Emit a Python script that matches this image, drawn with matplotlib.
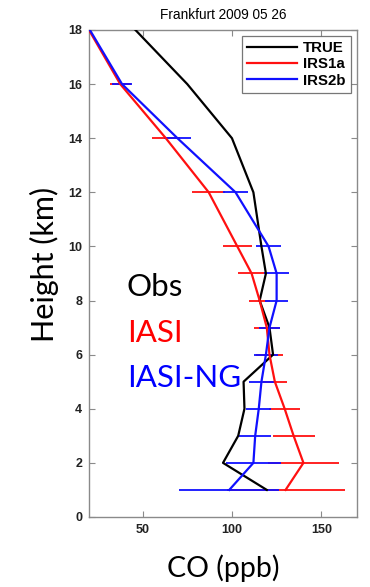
import matplotlib
matplotlib.use("Agg")
import matplotlib.pyplot as plt

heights = [18, 16, 14, 12, 10, 9, 8, 7, 6, 5, 4, 3, 2, 1]
true_co = [46, 75, 100, 112, 116.5, 119, 115.5, 121, 123, 106.5, 107, 103.5, 95, 119.5]
irs1a_co = [20, 37.5, 63, 87, 103, 111, 115.5, 119.5, 121, 124, 129.5, 134.5, 140, 130]
irs1a_err = [3, 6, 8, 9.3, 8, 7.7, 6, 7.3, 7.7, 6.6, 8.5, 11.8, 19.8, 33]
irs2b_co = [20.5, 38.5, 69.5, 102, 120.5, 125, 125, 121, 119, 116.5, 115, 113, 112, 98.5]
irs2b_err = [0, 5.6, 7.5, 7, 7, 7, 6.5, 6, 6.6, 7, 7, 9, 15.5, 28]

x_ticks = [50, 100, 150]
y_ticks = [0, 2, 4, 6, 8, 10, 12, 14, 16, 18]
title = "Frankfurt 2009 05 26"
legend_labels = ["TRUE", "IRS1a", "IRS2b"]

fig = plt.figure(figsize=(3.70, 5.87), dpi=100)
ax = fig.add_axes([0.2405, 0.1193, 0.7245, 0.8296])

ax.plot(true_co, heights, color="black", lw=1.6, label=legend_labels[0], zorder=3)
ax.plot(irs1a_co, heights, color="#ff1010", lw=1.6, label=legend_labels[1], zorder=3)
ax.errorbar(irs1a_co, heights, xerr=irs1a_err, fmt="none", ecolor="#ff1010",
            elinewidth=1.3, capsize=0, zorder=2)
ax.plot(irs2b_co, heights, color="#1010ff", lw=1.6, label=legend_labels[2], zorder=3)
ax.errorbar(irs2b_co, heights, xerr=irs2b_err, fmt="none", ecolor="#1010ff",
            elinewidth=1.3, capsize=0, zorder=2)

ax.set_xlim(20, 170)
ax.set_ylim(0, 18)
ax.set_xticks(x_ticks)
ax.set_yticks(y_ticks)
for s in ax.spines.values():
    s.set_color("#8a8a8a")
    s.set_linewidth(1.0)
ax.tick_params(direction="in", length=4, width=0.8, color="#8a8a8a",
               top=True, right=True, labelsize=9, pad=5)
for lab in ax.get_xticklabels() + ax.get_yticklabels():
    lab.set_fontfamily("Liberation Sans")
    lab.set_fontweight("bold")
    lab.set_color("#222222")

ax.set_title(title, fontsize=9.8, family="Liberation Sans", pad=8)

leg = ax.legend(loc="upper right", prop={"family": "Liberation Sans", "weight": "bold", "size": 10.8},
                handlelength=3.3, frameon=True, fancybox=False, borderaxespad=0.4,
                labelspacing=0.15, handletextpad=0.45, borderpad=0.35)
leg.get_frame().set_edgecolor("#555555")
leg.get_frame().set_linewidth(0.9)

fig.text(44 / 370, 1 - 264 / 587, "Height (km)", rotation=90, ha="center", va="center",
         fontsize=22, family="Lato")
fig.text(223 / 370, 1 - 568 / 587, "CO (ppb)", ha="center", va="center",
         fontsize=20.5, family="Lato")
fig.text(127 / 370, 1 - 296 / 587, "Obs", ha="left", va="baseline",
         fontsize=22.5, family="Lato", color="black")
fig.text(127 / 370, 1 - 342 / 587, "IASI", ha="left", va="baseline",
         fontsize=22.5, family="Lato", color="#ff0000")
fig.text(127 / 370, 1 - 387 / 587, "IASI-NG", ha="left", va="baseline",
         fontsize=22.5, family="Lato", color="#0000ff")

fig.savefig("out.png", dpi=100)
